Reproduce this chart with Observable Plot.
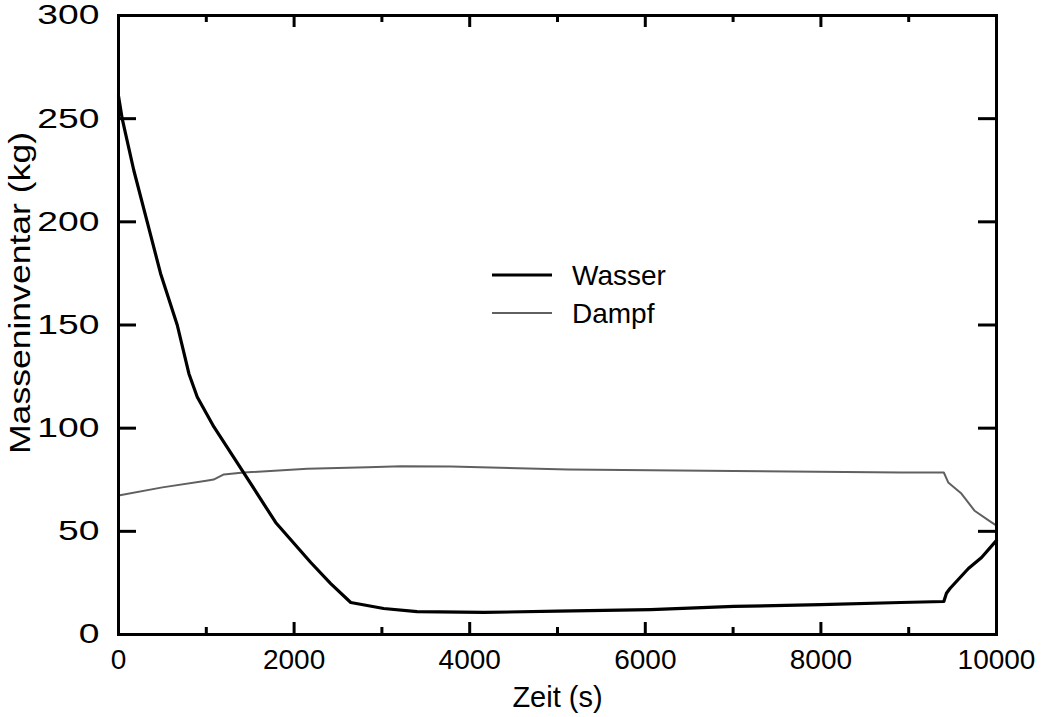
<!DOCTYPE html>
<html>
<head>
<meta charset="utf-8">
<script src="https://cdn.jsdelivr.net/npm/d3@7"></script>
<script src="https://cdn.jsdelivr.net/npm/@observablehq/plot@0.6"></script>
<style>
  html, body { margin: 0; padding: 0; background: #fff; }
  #chart svg { display: block; }
</style>
</head>
<body>
<div id="chart"></div>
<script>
// ---- data ----
const wasserTime = [0, 42, 174, 327, 479, 669, 802, 897, 1087, 1425, 1790, 2190, 2417, 2645, 3020, 3400, 4160, 5000, 6060, 7010, 8000, 8910, 9400, 9430, 9470, 9680, 9830, 10000];
const wasserMass = [261, 250, 225, 200, 175, 150, 126.4, 115.1, 100.6, 78.5, 54.3, 34.9, 24.7, 15.5, 12.6, 11.1, 10.7, 11.3, 12.1, 13.6, 14.5, 15.5, 16, 20, 22.3, 32, 37.3, 45.6];

const dampfTime = [0, 500, 1000, 1083, 1200, 1425, 2150, 2840, 3215, 3785, 5120, 7010, 8910, 9400, 9450, 9600, 9750, 9910, 10000];
const dampfMass = [67.4, 71.3, 74.5, 75.1, 77.6, 78.5, 80.3, 81, 81.6, 81.4, 80, 79.2, 78.5, 78.5, 73.7, 68.3, 60, 55.3, 52.8];

const xMajorTicks = [0, 2000, 4000, 6000, 8000, 10000];
const xMinorTicks = [1000, 3000, 5000, 7000, 9000];
const yTicks = [0, 50, 100, 150, 200, 250, 300];

const seriesNames = ["Wasser", "Dampf"];
const xLabel = "Zeit (s)";
const yLabel = "Masseninventar (kg)";

// ---- build tables ----
const wasser = wasserTime.map((t, i) => ({t, m: wasserMass[i]}));
const dampf = dampfTime.map((t, i) => ({t, m: dampfMass[i]}));

const W = 1049, H = 717;
const mL = 118, mR = 53, mT = 15, mB = 83;
const pw = W - mL - mR, ph = H - mT - mB;
const font = "'Liberation Sans', Arial, Helvetica, sans-serif";
const dampfColor = "#606060";

const chart = Plot.plot({
  width: W,
  height: H,
  marginLeft: mL,
  marginRight: mR,
  marginTop: mT,
  marginBottom: mB,
  style: {fontFamily: font, fontSize: "28px", color: "#000", background: "#fff"},
  x: {domain: [0, 10000], axis: null},
  y: {domain: [0, 300], axis: null},
  marks: [
    // inward ticks
    Plot.tickX(xMajorTicks, {x: d => d, insetTop: ph - 12, stroke: "#000", strokeWidth: 3}),
    Plot.tickX(xMajorTicks, {x: d => d, insetBottom: ph - 12, stroke: "#000", strokeWidth: 3}),
    Plot.tickX(xMinorTicks, {x: d => d, insetTop: ph - 7, stroke: "#000", strokeWidth: 3}),
    Plot.tickX(xMinorTicks, {x: d => d, insetBottom: ph - 7, stroke: "#000", strokeWidth: 3}),
    Plot.tickY(yTicks, {y: d => d, insetRight: pw - 18, stroke: "#000", strokeWidth: 3}),
    Plot.tickY(yTicks, {y: d => d, insetLeft: pw - 18, stroke: "#000", strokeWidth: 3}),
    // tick labels
    Plot.axisX({ticks: xMajorTicks, anchor: "bottom", tickSize: 0, tickPadding: 15, label: null, tickFormat: d => String(d), fontSize: 28}),
    Plot.axisY({ticks: yTicks, anchor: "left", tickSize: 0, tickPadding: 19, label: null, tickFormat: d => String(d), fontSize: 28}),
    // data lines
    Plot.line(dampf, {x: "t", y: "m", stroke: dampfColor, strokeWidth: 2}),
    Plot.line(wasser, {x: "t", y: "m", stroke: "#000", strokeWidth: 3.2}),
    Plot.frame({stroke: "#000", strokeWidth: 3}),
    // axis titles
    Plot.text([xLabel], {text: d => d, frameAnchor: "bottom", lineAnchor: "top", dy: 52, fontSize: 29, fill: "#000"}),
    Plot.text([yLabel], {text: d => d, frameAnchor: "left", rotate: -90, textAnchor: "middle", lineAnchor: "top", dx: -109, dy: -32, fontSize: 29, fill: "#000"})
  ]
});

document.getElementById("chart").appendChild(chart);

const svg = d3.select(chart);

// widen the y tick labels (the reference's y tick numerals are broader)
svg.selectAll('g[aria-label="y-axis tick label"] text').each(function() {
  const t = this.getAttribute("transform") || "";
  this.setAttribute("transform", t + " scale(1.33,1)");
});

// stretch the y-axis title to the reference length
svg.selectAll("text").filter(function() { return this.textContent === yLabel; })
  .attr("textLength", 322).attr("lengthAdjust", "spacingAndGlyphs");

// ---- legend (inside the plot area) ----
const leg = svg.append("g").attr("font-family", font).attr("font-size", 28).attr("text-anchor", "start");
const legendItems = [
  {name: seriesNames[0], stroke: "#000", width: 3.2, y: 275},
  {name: seriesNames[1], stroke: dampfColor, width: 2, y: 313}
];
legendItems.forEach(it => {
  leg.append("line").attr("x1", 492).attr("x2", 552).attr("y1", it.y).attr("y2", it.y)
    .attr("stroke", it.stroke).attr("stroke-width", it.width);
  leg.append("text").attr("x", 572).attr("y", it.y).attr("dy", "0.35em").attr("fill", "#000")
    .attr("text-anchor", "start").text(it.name);
});
</script>
</body>
</html>
